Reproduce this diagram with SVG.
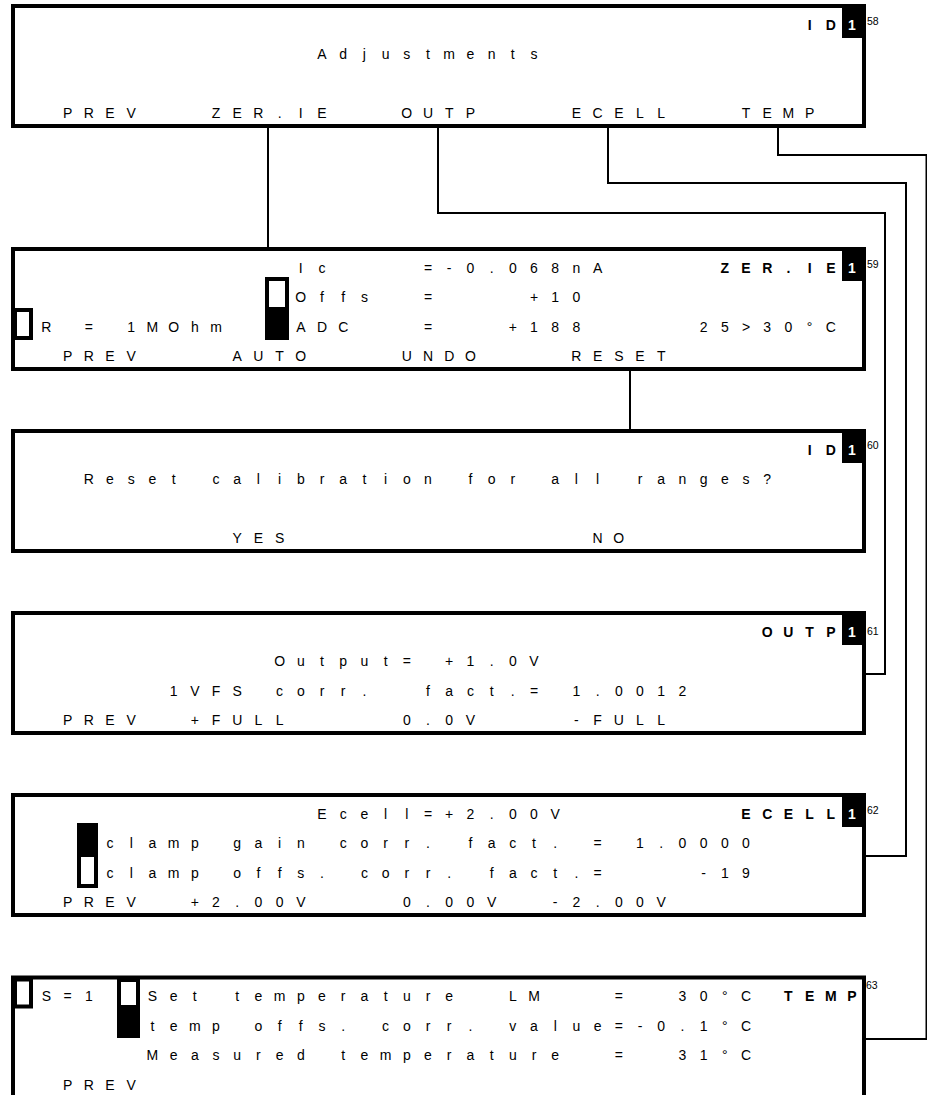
<svg xmlns="http://www.w3.org/2000/svg" width="927" height="1095" viewBox="0 0 927 1095">
<style>
.box{fill:#fff;stroke:#000;stroke-width:4}
.t{font-family:"Liberation Sans",Arial,sans-serif;font-size:14px;text-anchor:middle;fill:#000}
.b{font-weight:bold}
.w{fill:#fff;font-weight:bold}
.n{font-family:"Liberation Sans",Arial,sans-serif;font-size:10.5px;fill:#000}
.ind{fill:#fff;stroke:#000;stroke-width:4}
.lbl{fill:#000}
.con{fill:none;stroke:#000;stroke-width:2}
</style>
<rect width="927" height="1095" fill="#fff"/>
<g id="connectors">
<line class="con" x1="268" y1="128" x2="268" y2="247"/>
<polyline class="con" points="438,128 438,213 885,213 885,674 866,674"/>
<polyline class="con" points="608,128 608,183 906,183 906,856 866,856"/>
<polyline class="con" points="778,128 778,155 926.5,155 926.5,1039 866,1039"/>
<line class="con" x1="630" y1="371" x2="630" y2="429"/>
</g>
<g id="adjustments">
<rect class="box" x="13" y="6" width="851" height="120"/>
<rect class="lbl" x="842" y="5" width="22" height="33"/>
<text class="t b" x="809.6 830.8" y="29.5">ID</text>
<text class="t w" x="852" y="29.5">1</text>
<text class="n" x="867" y="25">58</text>
<text class="t" x="322.0 343.2 364.4 385.6 406.8 428.0 449.2 470.4 491.6 512.8 534.0" y="59">Adjustments</text>
<text class="t" x="67.6 88.8 110.0 131.2" y="118">PREV</text>
<text class="t" x="216.0 237.2 258.4 279.6 300.8 322.0" y="118">ZER.IE</text>
<text class="t" x="406.8 428.0 449.2 470.4" y="118">OUTP</text>
<text class="t" x="576.4 597.6 618.8 640.0 661.2" y="118">ECELL</text>
<text class="t" x="746.0 767.2 788.4 809.6" y="118">TEMP</text>
</g>
<g id="zerie">
<rect class="box" x="13" y="249" width="851" height="120"/>
<rect class="lbl" x="842" y="248" width="22" height="33"/>
<text class="t" x="300.8 322.0" y="272.5">Ic</text>
<text class="t" x="428.0 449.2 470.4 491.6 512.8 534.0 555.2 576.4 597.6" y="272.5">=-0.068nA</text>
<text class="t b" x="724.8 746.0 767.2 788.4 809.6 830.8" y="272.5">ZER.IE</text>
<text class="t w" x="852" y="272.5">1</text>
<text class="n" x="867" y="268">59</text>
<rect class="ind" x="267" y="279" width="20" height="59"/>
<rect class="lbl" x="265" y="307" width="24" height="33"/>
<text class="t" x="300.8 322.0 343.2 364.4" y="302">Offs</text>
<text class="t" x="428.0" y="302">=</text>
<text class="t" x="534.0 555.2 576.4" y="302">+10</text>
<rect class="ind" x="15" y="310" width="16" height="28"/>
<text class="t" x="46.4" y="331.5">R</text>
<text class="t" x="88.8" y="331.5">=</text>
<text class="t" x="131.2 152.4 173.6 194.8 216.0" y="331.5">1MOhm</text>
<text class="t" x="300.8 322.0 343.2" y="331.5">ADC</text>
<text class="t" x="428.0" y="331.5">=</text>
<text class="t" x="512.8 534.0 555.2 576.4" y="331.5">+188</text>
<text class="t" x="703.6 724.8 746.0 767.2 788.4 809.6 830.8" y="331.5">25&gt;30°C</text>
<text class="t" x="67.6 88.8 110.0 131.2" y="361">PREV</text>
<text class="t" x="237.2 258.4 279.6 300.8" y="361">AUTO</text>
<text class="t" x="406.8 428.0 449.2 470.4" y="361">UNDO</text>
<text class="t" x="576.4 597.6 618.8 640.0 661.2" y="361">RESET</text>
</g>
<g id="reset">
<rect class="box" x="13" y="431" width="851" height="120"/>
<rect class="lbl" x="842" y="430" width="22" height="33"/>
<text class="t b" x="809.6 830.8" y="454.5">ID</text>
<text class="t w" x="852" y="454.5">1</text>
<text class="n" x="867" y="449">60</text>
<text class="t" x="88.8 110.0 131.2 152.4 173.6 194.8 216.0 237.2 258.4 279.6 300.8 322.0 343.2 364.4 385.6 406.8 428.0 449.2 470.4 491.6 512.8 534.0 555.2 576.4 597.6 618.8 640.0 661.2 682.4 703.6 724.8 746.0 767.2" y="484">Reset calibration for all ranges?</text>
<text class="t" x="237.2 258.4 279.6" y="543">YES</text>
<text class="t" x="597.6 618.8" y="543">NO</text>
</g>
<g id="outp">
<rect class="box" x="13" y="613" width="851" height="120"/>
<rect class="lbl" x="842" y="612" width="22" height="33"/>
<text class="t b" x="767.2 788.4 809.6 830.8" y="636.5">OUTP</text>
<text class="t w" x="852" y="636.5">1</text>
<text class="n" x="867" y="635">61</text>
<text class="t" x="279.6 300.8 322.0 343.2 364.4 385.6 406.8" y="666">Output=</text>
<text class="t" x="449.2 470.4 491.6 512.8 534.0" y="666">+1.0V</text>
<text class="t" x="173.6 194.8 216.0 237.2" y="695.5">1VFS</text>
<text class="t" x="279.6 300.8 322.0 343.2 364.4" y="695.5">corr.</text>
<text class="t" x="428.0 449.2 470.4 491.6 512.8 534.0" y="695.5">fact.=</text>
<text class="t" x="576.4 597.6 618.8 640.0 661.2 682.4" y="695.5">1.0012</text>
<text class="t" x="67.6 88.8 110.0 131.2" y="725">PREV</text>
<text class="t" x="194.8 216.0 237.2 258.4 279.6" y="725">+FULL</text>
<text class="t" x="406.8 428.0 449.2 470.4" y="725">0.0V</text>
<text class="t" x="576.4 597.6 618.8 640.0 661.2" y="725">-FULL</text>
</g>
<g id="ecell">
<rect class="box" x="13" y="795" width="851" height="120"/>
<rect class="lbl" x="842" y="794" width="22" height="33"/>
<text class="t" x="322.0 343.2 364.4 385.6 406.8 428.0 449.2 470.4 491.6 512.8 534.0 555.2" y="818.5">Ecell=+2.00V</text>
<text class="t b" x="746.0 767.2 788.4 809.6 830.8" y="818.5">ECELL</text>
<text class="t w" x="852" y="818.5">1</text>
<text class="n" x="867" y="814">62</text>
<rect class="ind" x="79" y="825" width="17" height="61"/>
<rect class="lbl" x="77" y="823" width="21" height="34"/>
<text class="t" x="110.0 131.2 152.4 173.6 194.8 216.0 237.2 258.4 279.6 300.8 322.0 343.2 364.4 385.6 406.8 428.0 449.2 470.4 491.6 512.8 534.0 555.2" y="848">clamp gain corr. fact.</text>
<text class="t" x="597.6" y="848">=</text>
<text class="t" x="640.0 661.2 682.4 703.6 724.8 746.0" y="848">1.0000</text>
<text class="t" x="110.0 131.2 152.4 173.6 194.8 216.0 237.2 258.4 279.6 300.8 322.0 343.2 364.4 385.6 406.8 428.0 449.2 470.4 491.6 512.8 534.0 555.2 576.4 597.6" y="877.5">clamp offs. corr. fact.=</text>
<text class="t" x="703.6 724.8 746.0" y="877.5">-19</text>
<text class="t" x="67.6 88.8 110.0 131.2" y="907">PREV</text>
<text class="t" x="194.8 216.0 237.2 258.4 279.6 300.8" y="907">+2.00V</text>
<text class="t" x="406.8 428.0 449.2 470.4 491.6" y="907">0.00V</text>
<text class="t" x="555.2 576.4 597.6 618.8 640.0 661.2" y="907">-2.00V</text>
</g>
<g id="temp">
<rect class="box" x="13" y="977.5" width="851" height="130"/>
<rect class="ind" x="15" y="979.5" width="16" height="27"/>
<text class="t" x="46.4 67.6 88.8" y="1001">S=1</text>
<rect class="ind" x="119" y="980" width="19" height="56"/>
<rect class="lbl" x="117" y="1005" width="23" height="33"/>
<text class="t" x="152.4 173.6 194.8 216.0 237.2 258.4 279.6 300.8 322.0 343.2 364.4 385.6 406.8 428.0 449.2" y="1001">Set temperature</text>
<text class="t" x="512.8 534.0" y="1001">LM</text>
<text class="t" x="618.8" y="1001">=</text>
<text class="t" x="682.4 703.6 724.8 746.0" y="1001">30°C</text>
<text class="t b" x="788.4 809.6 830.8 852.0" y="1001">TEMP</text>
<text class="n" x="866" y="989">63</text>
<text class="t" x="152.4 173.6 194.8 216.0 237.2 258.4 279.6 300.8 322.0 343.2 364.4 385.6 406.8 428.0 449.2 470.4 491.6 512.8 534.0 555.2 576.4 597.6 618.8 640.0 661.2 682.4 703.6 724.8 746.0" y="1030.5">temp offs. corr. value=-0.1°C</text>
<text class="t" x="152.4 173.6 194.8 216.0 237.2 258.4 279.6 300.8 322.0 343.2 364.4 385.6 406.8 428.0 449.2 470.4 491.6 512.8 534.0 555.2" y="1060">Measured temperature</text>
<text class="t" x="618.8" y="1060">=</text>
<text class="t" x="682.4 703.6 724.8 746.0" y="1060">31°C</text>
<text class="t" x="67.6 88.8 110.0 131.2" y="1089.5">PREV</text>
</g>
</svg>
